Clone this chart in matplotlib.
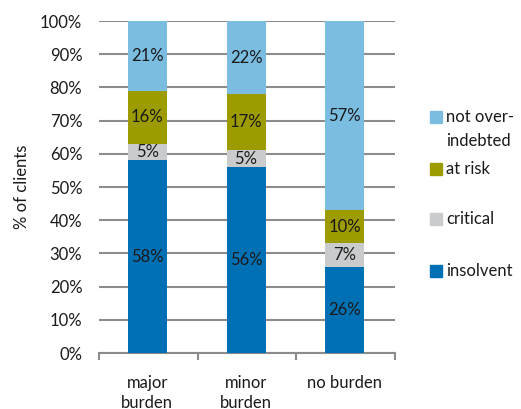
import matplotlib
matplotlib.use("Agg")
import matplotlib.pyplot as plt
from matplotlib.patches import Rectangle

plt.rcParams['font.family'] = ['Lato', 'DejaVu Sans']

categories = ["major\nburden", "minor\nburden", "no burden"]
series_names = ["insolvent", "critical", "at risk", "not over-\nindebted"]
insolvent = [58, 56, 26]
critical = [5, 5, 7]
at_risk = [16, 17, 10]
not_over = [21, 22, 57]
series_values = [insolvent, critical, at_risk, not_over]
colors = ["#0070B4", "#C9CBCD", "#9C9B00", "#7BBDE1"]
y_ticks = list(range(0, 101, 10))

FS = 12
W, H = 521, 409
fig = plt.figure(figsize=(W / 100, H / 100), dpi=100)
ax = fig.add_axes([99 / W, 1 - 353 / H, (395 - 99) / W, (353 - 21) / H])

x = list(range(len(categories)))
bottoms = [0] * len(categories)
for vals, col in zip(series_values, colors):
    ax.bar([xi - 0.01 for xi in x], vals, bottom=bottoms, width=0.395,
           color=col, zorder=3)
    for xi, v, b in zip(x, vals, bottoms):
        ax.text(xi - 0.01, b + v / 2, f"{v}%", ha="center", va="center",
                fontsize=FS, color="#1a1a1a", zorder=4)
    bottoms = [b + v for b, v in zip(bottoms, vals)]

ax.set_xlim(-0.5, 2.5)
ax.set_ylim(0, 100)
ax.set_yticks(y_ticks)
ax.set_yticklabels([f"{t}%" for t in y_ticks], fontsize=FS, color="#1a1a1a")
ax.yaxis.grid(True, color="#8c8c8c", linewidth=1.5, zorder=0)
ax.tick_params(axis="y", length=0, pad=12)

# category labels centred under bars, boundary ticks on the baseline
ax.set_xticks([-0.5, 0.5, 1.5, 2.5])
ax.set_xticklabels([])
ax.tick_params(axis="x", length=5, width=1.5, color="#8c8c8c", direction="out")
for xi, lab in zip(x, categories):
    ax.text(xi - 0.01, -6.5, lab, ha="center", va="top", fontsize=FS,
            color="#1a1a1a", linespacing=1.35, transform=ax.transData,
            clip_on=False)

for s in ["top", "right", "left"]:
    ax.spines[s].set_visible(False)
ax.spines["bottom"].set_color("#8c8c8c")
ax.spines["bottom"].set_linewidth(1.5)

ax.set_ylabel("% of clients", fontsize=FS, color="#1a1a1a", labelpad=7)

# legend drawn as swatches with labels, top entry first
legend_y = [117, 169, 219, 271]
for name, col, yy in zip(series_names[::-1], colors[::-1], legend_y):
    fig.patches.append(Rectangle((430 / W, 1 - (yy + 6) / H), 12 / W, 12 / H,
                                 transform=fig.transFigure, color=col))
    lines = name.split("\n")
    for i, line in enumerate(lines):
        fig.text(446 / W, 1 - (yy + 24 * i) / H, line, ha="left", va="center",
                 fontsize=FS, color="#1a1a1a")

fig.savefig("out.png", dpi=100)
